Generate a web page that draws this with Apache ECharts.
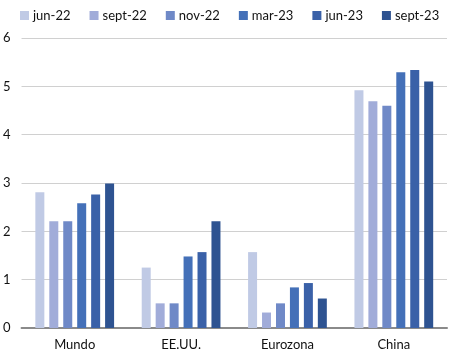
<!DOCTYPE html>
<html>
  <head>
    <meta charset="utf-8">
    <script src="https://cdn.jsdelivr.net/npm/echarts@6/dist/echarts.min.js"></script>
    <style>
      body { margin: 0; padding: 0; background: #fff; }
      #chart { width: 449px; height: 354px; }
    </style>
  </head>
  <body>
    <div id="chart"></div>
    <script>
      const regions = ['Mundo', 'EE.UU.', 'Eurozona', 'China'];
      const periods = ['jun-22', 'sept-22', 'nov-22', 'mar-23', 'jun-23', 'sept-23'];
      const colors = ['#c0cae5', '#a1acd9', '#6f89c7', '#4470b8', '#3a61a8', '#2e5391'];

      // one array per period, values in order of regions
      const jun22 = [2.81, 1.25, 1.57, 4.92];
      const sept22 = [2.21, 0.51, 0.32, 4.69];
      const nov22 = [2.21, 0.51, 0.51, 4.60];
      const mar23 = [2.58, 1.48, 0.84, 5.29];
      const jun23 = [2.76, 1.57, 0.93, 5.34];
      const sept23 = [2.99, 2.21, 0.61, 5.10];
      const values = [jun22, sept22, nov22, mar23, jun23, sept23];

      const yTicks = [0, 1, 2, 3, 4, 5, 6];

      const font = 'Lato, "Open Sans", sans-serif';
      const chart = echarts.init(document.getElementById('chart'));

      chart.setOption({
        animation: false,
        textStyle: { fontFamily: font },
        legend: {
          left: 15,
          top: 4,
          itemWidth: 9,
          itemHeight: 9,
          itemGap: 19,
          icon: 'rect',
          textStyle: { fontSize: 13, color: '#111', fontFamily: font, padding: [0, 0, 0, -1] },
          data: periods
        },
        grid: { left: 19, right: 2, top: 38, bottom: 26 },
        xAxis: {
          type: 'category',
          data: regions,
          axisTick: { show: false },
          axisLine: { lineStyle: { color: '#8a8a8a', width: 2 } },
          axisLabel: { color: '#111', fontSize: 13, margin: 10, fontFamily: font }
        },
        yAxis: {
          type: 'value',
          min: yTicks[0],
          max: yTicks[yTicks.length - 1],
          interval: 1,
          axisLabel: { color: '#111', fontSize: 13, margin: 11, fontFamily: font },
          splitLine: { lineStyle: { color: '#d0d0d0', width: 1 } }
        },
        series: periods.map((p, i) => ({
          name: p,
          type: 'bar',
          data: values[i],
          barWidth: 9,
          barGap: '55%',
          itemStyle: { color: colors[i] }
        }))
      });
    </script>
  </body>
</html>
